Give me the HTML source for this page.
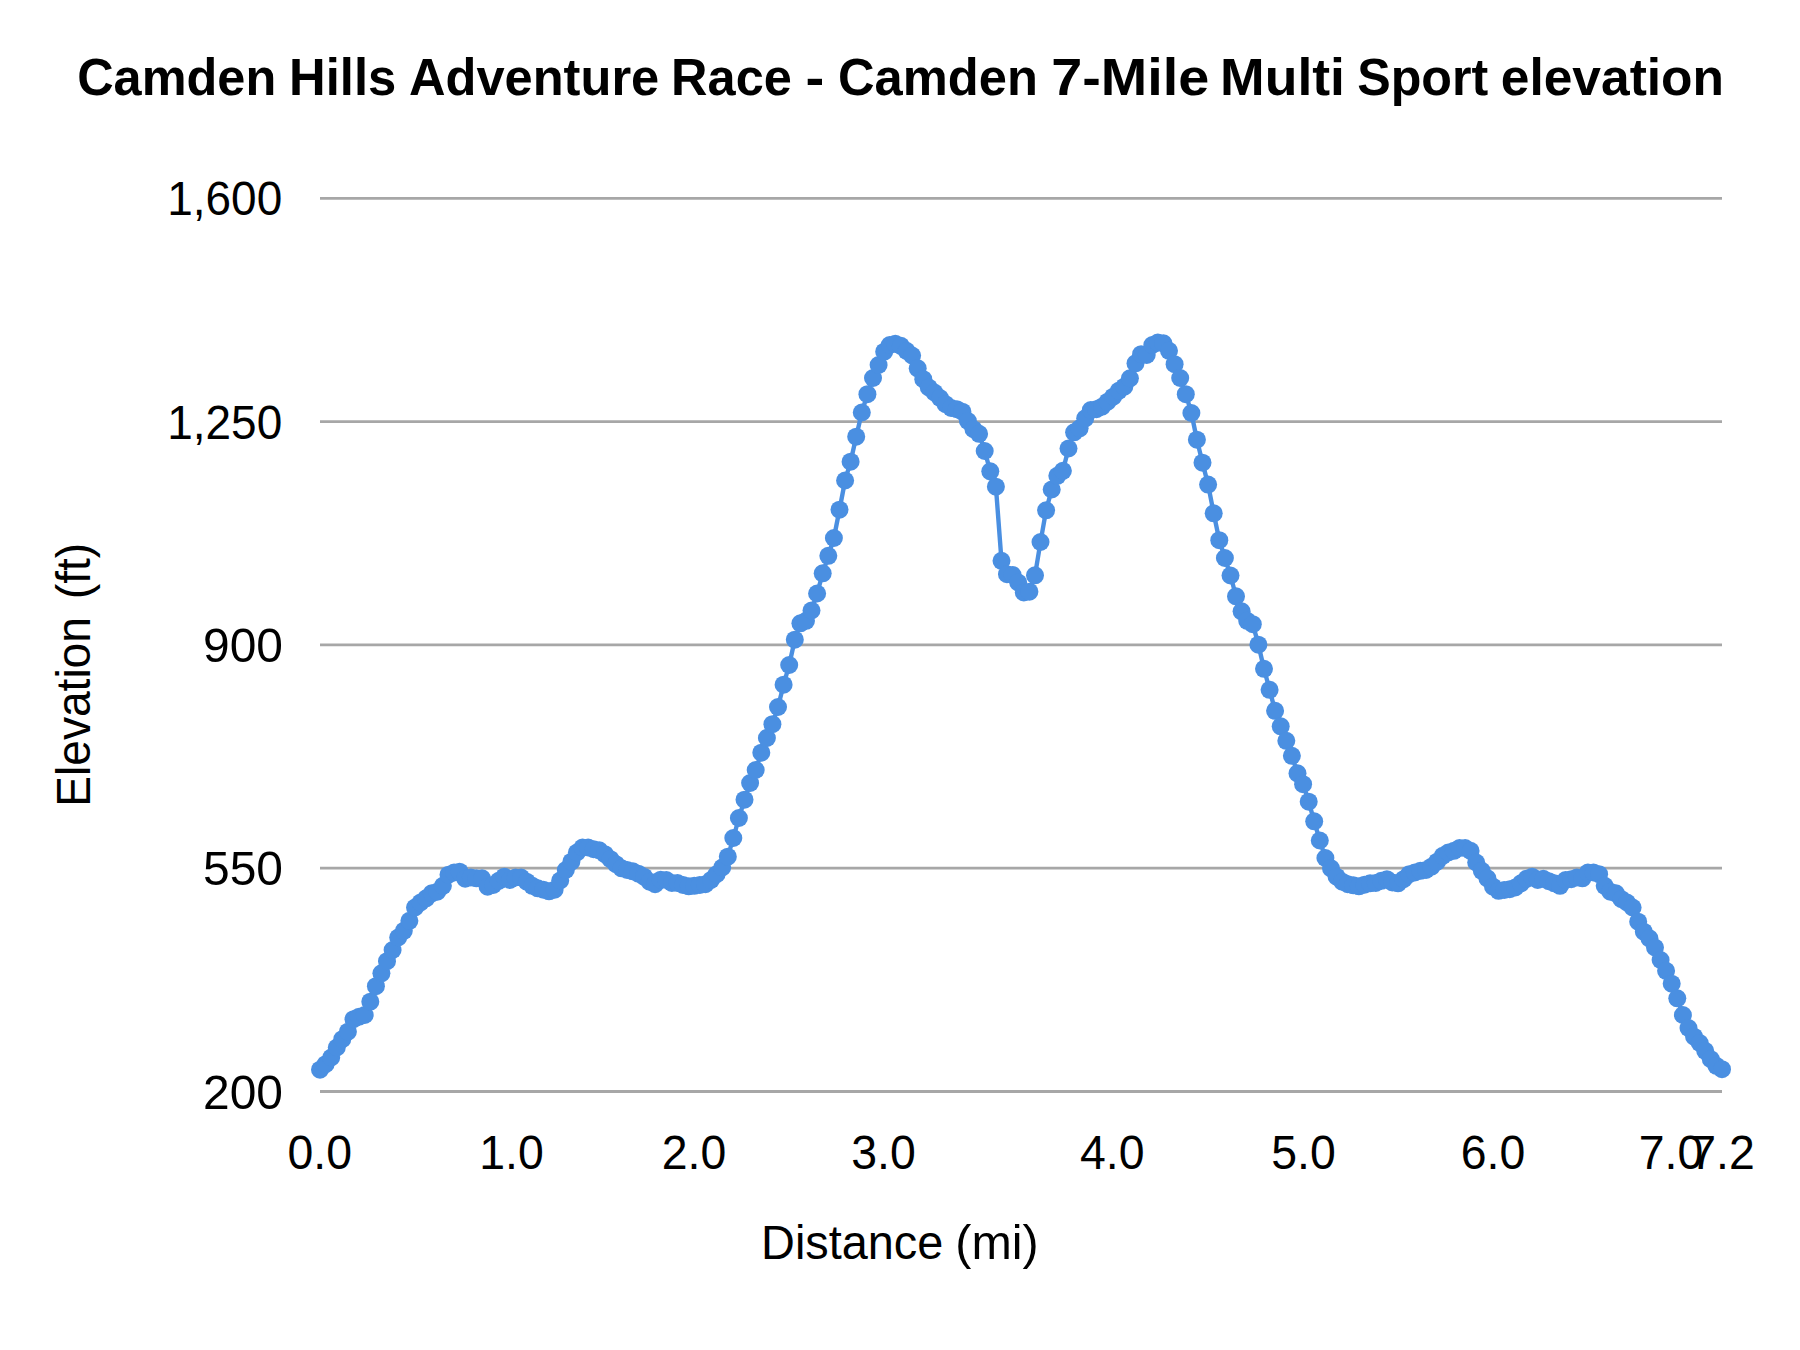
<!DOCTYPE html>
<html><head><meta charset="utf-8"><title>Camden Hills Adventure Race - Camden 7-Mile Multi Sport elevation</title>
<style>
html,body{margin:0;padding:0;background:#fff;}
svg{display:block;}
text{font-family:"Liberation Sans",sans-serif;fill:#000;}
.t{font-weight:bold;font-size:51.5px;}
.a{font-size:48.5px;}
</style></head><body>
<svg width="1800" height="1350" viewBox="0 0 1800 1350">
<rect width="1800" height="1350" fill="#fff"/>
<text class="t" x="77.16" y="95" textLength="199.08" lengthAdjust="spacingAndGlyphs">Camden</text><text class="t" x="289.06" y="95" textLength="107.21" lengthAdjust="spacingAndGlyphs">Hills</text><text class="t" x="408.99" y="95" textLength="250.23" lengthAdjust="spacingAndGlyphs">Adventure</text><text class="t" x="671.10" y="95" textLength="120.77" lengthAdjust="spacingAndGlyphs">Race</text><text class="t" x="805.48" y="95" textLength="18.75" lengthAdjust="spacingAndGlyphs">-</text><text class="t" x="837.96" y="95" textLength="199.90" lengthAdjust="spacingAndGlyphs">Camden</text><text class="t" x="1051.15" y="95" textLength="158.09" lengthAdjust="spacingAndGlyphs">7-Mile</text><text class="t" x="1220.05" y="95" textLength="124.96" lengthAdjust="spacingAndGlyphs">Multi</text><text class="t" x="1357.18" y="95" textLength="131.02" lengthAdjust="spacingAndGlyphs">Sport</text><text class="t" x="1500.77" y="95" textLength="223.30" lengthAdjust="spacingAndGlyphs">elevation</text>
<g stroke="#a7a7a7" stroke-width="2.8"><line x1="320" x2="1722" y1="198.3" y2="198.3"/><line x1="320" x2="1722" y1="421.6" y2="421.6"/><line x1="320" x2="1722" y1="644.9" y2="644.9"/><line x1="320" x2="1722" y1="868.2" y2="868.2"/><line x1="320" x2="1722" y1="1091.5" y2="1091.5"/></g>
<g class="a"><text x="167.2" y="215.3" textLength="115" lengthAdjust="spacingAndGlyphs">1,600</text><text x="167.2" y="438.6" textLength="115" lengthAdjust="spacingAndGlyphs">1,250</text><text x="203" y="661.9" textLength="80" lengthAdjust="spacingAndGlyphs">900</text><text x="203" y="885.2" textLength="80" lengthAdjust="spacingAndGlyphs">550</text><text x="203" y="1108.5" textLength="80" lengthAdjust="spacingAndGlyphs">200</text><text x="287.5" y="1169.2" textLength="64.5" lengthAdjust="spacingAndGlyphs">0.0</text><text x="479.3" y="1169.2" textLength="64.5" lengthAdjust="spacingAndGlyphs">1.0</text><text x="661.8" y="1169.2" textLength="64.5" lengthAdjust="spacingAndGlyphs">2.0</text><text x="851.3" y="1169.2" textLength="64.5" lengthAdjust="spacingAndGlyphs">3.0</text><text x="1080.0" y="1169.2" textLength="64.5" lengthAdjust="spacingAndGlyphs">4.0</text><text x="1271.2" y="1169.2" textLength="64.5" lengthAdjust="spacingAndGlyphs">5.0</text><text x="1460.7" y="1169.2" textLength="64.5" lengthAdjust="spacingAndGlyphs">6.0</text><text x="1638.8" y="1169.2" textLength="64.5" lengthAdjust="spacingAndGlyphs">7.0</text><text x="1690.2" y="1169.2" textLength="64.5" lengthAdjust="spacingAndGlyphs">7.2</text>
<text x="761.1" y="1258.7" textLength="182.2" lengthAdjust="spacingAndGlyphs">Distance</text><text x="955.3" y="1258.7" textLength="83.3" lengthAdjust="spacingAndGlyphs">(mi)</text>
<g transform="translate(90,803.8) rotate(-90)"><text x="-2.85" y="0" textLength="189.5" lengthAdjust="spacingAndGlyphs">Elevation</text><text x="204.8" y="0" textLength="56" lengthAdjust="spacingAndGlyphs">(ft)</text></g>
</g>
<polyline points="320.0,1069.7 325.6,1064.2 331.2,1057.5 336.8,1047.5 342.3,1039.2 347.9,1031.7 353.5,1019.2 359.1,1016.7 364.7,1015.0 370.3,1001.7 375.9,986.2 381.4,973.3 387.0,961.2 392.6,950.0 398.2,937.5 403.8,930.8 409.4,920.8 415.0,907.5 420.5,902.5 426.1,898.3 431.7,893.3 437.3,891.7 442.9,885.8 448.5,874.7 454.1,872.5 459.6,871.7 465.2,878.7 470.8,877.5 476.4,878.3 482.0,878.3 487.6,886.7 493.2,885.0 498.7,880.8 504.3,876.7 509.9,880.0 515.5,877.5 521.1,877.5 526.7,881.7 532.3,885.8 537.8,888.3 543.4,889.7 549.0,891.3 554.6,889.7 560.2,880.5 565.8,870.0 571.4,861.7 576.9,852.5 582.5,847.5 588.1,847.5 593.7,849.2 599.3,850.3 604.9,854.2 610.5,859.2 616.0,864.2 621.6,868.3 627.2,870.0 632.8,871.3 638.4,873.7 644.0,876.7 649.6,881.7 655.1,884.2 660.7,879.7 666.3,880.0 671.9,883.0 677.5,883.0 683.1,885.0 688.7,886.3 694.2,885.8 699.8,885.0 705.4,884.2 711.0,880.0 716.6,874.2 722.2,867.5 727.8,856.7 733.3,838.0 738.9,818.0 744.5,799.7 750.1,783.0 755.7,770.0 761.3,752.7 766.9,738.0 772.4,724.2 778.0,707.0 783.6,684.7 789.2,665.0 794.8,639.7 800.4,623.3 806.0,620.8 811.5,610.5 817.1,593.5 822.7,573.3 828.3,555.8 833.9,538.0 839.5,509.7 845.1,480.5 850.6,461.7 856.2,436.7 861.8,412.5 867.4,394.2 873.0,378.0 878.6,365.0 884.2,351.7 889.7,345.0 895.3,343.8 900.9,345.8 906.5,350.8 912.1,355.5 917.7,368.3 923.3,379.2 928.8,387.5 934.4,392.5 940.0,398.0 945.6,404.2 951.2,408.0 956.8,409.2 962.4,411.7 967.9,421.0 973.5,429.2 979.1,433.8 984.7,451.0 990.3,471.3 995.9,486.7 1001.5,560.8 1007.0,574.2 1012.6,575.0 1018.2,582.5 1023.8,592.5 1029.4,591.7 1035.0,575.3 1040.5,542.0 1046.1,510.3 1051.7,489.5 1057.3,475.8 1062.9,470.8 1068.5,448.5 1074.1,432.3 1079.6,428.3 1085.2,418.3 1090.8,410.0 1096.4,409.2 1102.0,406.7 1107.6,401.7 1113.2,396.7 1118.7,390.8 1124.3,386.7 1129.9,378.3 1135.5,363.3 1141.1,354.2 1146.7,355.0 1152.3,345.0 1157.8,342.5 1163.4,343.3 1169.0,350.8 1174.6,364.2 1180.2,378.0 1185.8,394.2 1191.4,413.0 1196.9,439.7 1202.5,462.7 1208.1,484.6 1213.7,513.3 1219.3,540.2 1224.9,558.0 1230.5,575.5 1236.0,596.3 1241.6,611.3 1247.2,620.8 1252.8,624.2 1258.4,644.7 1264.0,668.8 1269.6,689.8 1275.1,710.8 1280.7,726.3 1286.3,740.8 1291.9,755.8 1297.5,773.3 1303.1,784.2 1308.7,801.7 1314.2,821.3 1319.8,840.5 1325.4,858.0 1331.0,868.3 1336.6,876.7 1342.2,881.7 1347.8,884.2 1353.3,885.3 1358.9,886.3 1364.5,884.7 1370.1,883.3 1375.7,883.0 1381.3,880.8 1386.9,879.2 1392.4,882.5 1398.0,883.3 1403.6,879.2 1409.2,874.2 1414.8,872.5 1420.4,870.8 1426.0,870.0 1431.5,866.7 1437.1,861.7 1442.7,855.8 1448.3,852.5 1453.9,850.8 1459.5,848.0 1465.1,848.0 1470.6,850.8 1476.2,862.5 1481.8,870.8 1487.4,878.3 1493.0,886.7 1498.6,890.8 1504.2,890.0 1509.7,889.2 1515.3,887.5 1520.9,883.3 1526.5,878.8 1532.1,876.7 1537.7,880.0 1543.3,878.8 1548.8,881.2 1554.4,883.3 1560.0,885.8 1565.6,880.0 1571.2,879.2 1576.8,877.5 1582.4,878.3 1587.9,872.5 1593.5,872.5 1599.1,874.2 1604.7,885.8 1610.3,891.7 1615.9,893.3 1621.5,899.2 1627.0,902.5 1632.6,907.5 1638.2,921.7 1643.8,931.7 1649.4,938.3 1655.0,947.5 1660.6,960.0 1666.1,970.8 1671.7,983.7 1677.3,998.3 1682.9,1015.0 1688.5,1028.0 1694.1,1036.7 1699.7,1043.0 1705.2,1050.8 1710.8,1059.2 1716.4,1065.8 1722.0,1069.2" fill="none" stroke="#4a8fe1" stroke-width="4.4" stroke-linejoin="round" stroke-linecap="round"/>
<g fill="#4a8fe1"><circle cx="320.0" cy="1069.7" r="9.0"/><circle cx="325.6" cy="1064.2" r="9.0"/><circle cx="331.2" cy="1057.5" r="9.0"/><circle cx="336.8" cy="1047.5" r="9.0"/><circle cx="342.3" cy="1039.2" r="9.0"/><circle cx="347.9" cy="1031.7" r="9.0"/><circle cx="353.5" cy="1019.2" r="9.0"/><circle cx="359.1" cy="1016.7" r="9.0"/><circle cx="364.7" cy="1015.0" r="9.0"/><circle cx="370.3" cy="1001.7" r="9.0"/><circle cx="375.9" cy="986.2" r="9.0"/><circle cx="381.4" cy="973.3" r="9.0"/><circle cx="387.0" cy="961.2" r="9.0"/><circle cx="392.6" cy="950.0" r="9.0"/><circle cx="398.2" cy="937.5" r="9.0"/><circle cx="403.8" cy="930.8" r="9.0"/><circle cx="409.4" cy="920.8" r="9.0"/><circle cx="415.0" cy="907.5" r="9.0"/><circle cx="420.5" cy="902.5" r="9.0"/><circle cx="426.1" cy="898.3" r="9.0"/><circle cx="431.7" cy="893.3" r="9.0"/><circle cx="437.3" cy="891.7" r="9.0"/><circle cx="442.9" cy="885.8" r="9.0"/><circle cx="448.5" cy="874.7" r="9.0"/><circle cx="454.1" cy="872.5" r="9.0"/><circle cx="459.6" cy="871.7" r="9.0"/><circle cx="465.2" cy="878.7" r="9.0"/><circle cx="470.8" cy="877.5" r="9.0"/><circle cx="476.4" cy="878.3" r="9.0"/><circle cx="482.0" cy="878.3" r="9.0"/><circle cx="487.6" cy="886.7" r="9.0"/><circle cx="493.2" cy="885.0" r="9.0"/><circle cx="498.7" cy="880.8" r="9.0"/><circle cx="504.3" cy="876.7" r="9.0"/><circle cx="509.9" cy="880.0" r="9.0"/><circle cx="515.5" cy="877.5" r="9.0"/><circle cx="521.1" cy="877.5" r="9.0"/><circle cx="526.7" cy="881.7" r="9.0"/><circle cx="532.3" cy="885.8" r="9.0"/><circle cx="537.8" cy="888.3" r="9.0"/><circle cx="543.4" cy="889.7" r="9.0"/><circle cx="549.0" cy="891.3" r="9.0"/><circle cx="554.6" cy="889.7" r="9.0"/><circle cx="560.2" cy="880.5" r="9.0"/><circle cx="565.8" cy="870.0" r="9.0"/><circle cx="571.4" cy="861.7" r="9.0"/><circle cx="576.9" cy="852.5" r="9.0"/><circle cx="582.5" cy="847.5" r="9.0"/><circle cx="588.1" cy="847.5" r="9.0"/><circle cx="593.7" cy="849.2" r="9.0"/><circle cx="599.3" cy="850.3" r="9.0"/><circle cx="604.9" cy="854.2" r="9.0"/><circle cx="610.5" cy="859.2" r="9.0"/><circle cx="616.0" cy="864.2" r="9.0"/><circle cx="621.6" cy="868.3" r="9.0"/><circle cx="627.2" cy="870.0" r="9.0"/><circle cx="632.8" cy="871.3" r="9.0"/><circle cx="638.4" cy="873.7" r="9.0"/><circle cx="644.0" cy="876.7" r="9.0"/><circle cx="649.6" cy="881.7" r="9.0"/><circle cx="655.1" cy="884.2" r="9.0"/><circle cx="660.7" cy="879.7" r="9.0"/><circle cx="666.3" cy="880.0" r="9.0"/><circle cx="671.9" cy="883.0" r="9.0"/><circle cx="677.5" cy="883.0" r="9.0"/><circle cx="683.1" cy="885.0" r="9.0"/><circle cx="688.7" cy="886.3" r="9.0"/><circle cx="694.2" cy="885.8" r="9.0"/><circle cx="699.8" cy="885.0" r="9.0"/><circle cx="705.4" cy="884.2" r="9.0"/><circle cx="711.0" cy="880.0" r="9.0"/><circle cx="716.6" cy="874.2" r="9.0"/><circle cx="722.2" cy="867.5" r="9.0"/><circle cx="727.8" cy="856.7" r="9.0"/><circle cx="733.3" cy="838.0" r="9.0"/><circle cx="738.9" cy="818.0" r="9.0"/><circle cx="744.5" cy="799.7" r="9.0"/><circle cx="750.1" cy="783.0" r="9.0"/><circle cx="755.7" cy="770.0" r="9.0"/><circle cx="761.3" cy="752.7" r="9.0"/><circle cx="766.9" cy="738.0" r="9.0"/><circle cx="772.4" cy="724.2" r="9.0"/><circle cx="778.0" cy="707.0" r="9.0"/><circle cx="783.6" cy="684.7" r="9.0"/><circle cx="789.2" cy="665.0" r="9.0"/><circle cx="794.8" cy="639.7" r="9.0"/><circle cx="800.4" cy="623.3" r="9.0"/><circle cx="806.0" cy="620.8" r="9.0"/><circle cx="811.5" cy="610.5" r="9.0"/><circle cx="817.1" cy="593.5" r="9.0"/><circle cx="822.7" cy="573.3" r="9.0"/><circle cx="828.3" cy="555.8" r="9.0"/><circle cx="833.9" cy="538.0" r="9.0"/><circle cx="839.5" cy="509.7" r="9.0"/><circle cx="845.1" cy="480.5" r="9.0"/><circle cx="850.6" cy="461.7" r="9.0"/><circle cx="856.2" cy="436.7" r="9.0"/><circle cx="861.8" cy="412.5" r="9.0"/><circle cx="867.4" cy="394.2" r="9.0"/><circle cx="873.0" cy="378.0" r="9.0"/><circle cx="878.6" cy="365.0" r="9.0"/><circle cx="884.2" cy="351.7" r="9.0"/><circle cx="889.7" cy="345.0" r="9.0"/><circle cx="895.3" cy="343.8" r="9.0"/><circle cx="900.9" cy="345.8" r="9.0"/><circle cx="906.5" cy="350.8" r="9.0"/><circle cx="912.1" cy="355.5" r="9.0"/><circle cx="917.7" cy="368.3" r="9.0"/><circle cx="923.3" cy="379.2" r="9.0"/><circle cx="928.8" cy="387.5" r="9.0"/><circle cx="934.4" cy="392.5" r="9.0"/><circle cx="940.0" cy="398.0" r="9.0"/><circle cx="945.6" cy="404.2" r="9.0"/><circle cx="951.2" cy="408.0" r="9.0"/><circle cx="956.8" cy="409.2" r="9.0"/><circle cx="962.4" cy="411.7" r="9.0"/><circle cx="967.9" cy="421.0" r="9.0"/><circle cx="973.5" cy="429.2" r="9.0"/><circle cx="979.1" cy="433.8" r="9.0"/><circle cx="984.7" cy="451.0" r="9.0"/><circle cx="990.3" cy="471.3" r="9.0"/><circle cx="995.9" cy="486.7" r="9.0"/><circle cx="1001.5" cy="560.8" r="9.0"/><circle cx="1007.0" cy="574.2" r="9.0"/><circle cx="1012.6" cy="575.0" r="9.0"/><circle cx="1018.2" cy="582.5" r="9.0"/><circle cx="1023.8" cy="592.5" r="9.0"/><circle cx="1029.4" cy="591.7" r="9.0"/><circle cx="1035.0" cy="575.3" r="9.0"/><circle cx="1040.5" cy="542.0" r="9.0"/><circle cx="1046.1" cy="510.3" r="9.0"/><circle cx="1051.7" cy="489.5" r="9.0"/><circle cx="1057.3" cy="475.8" r="9.0"/><circle cx="1062.9" cy="470.8" r="9.0"/><circle cx="1068.5" cy="448.5" r="9.0"/><circle cx="1074.1" cy="432.3" r="9.0"/><circle cx="1079.6" cy="428.3" r="9.0"/><circle cx="1085.2" cy="418.3" r="9.0"/><circle cx="1090.8" cy="410.0" r="9.0"/><circle cx="1096.4" cy="409.2" r="9.0"/><circle cx="1102.0" cy="406.7" r="9.0"/><circle cx="1107.6" cy="401.7" r="9.0"/><circle cx="1113.2" cy="396.7" r="9.0"/><circle cx="1118.7" cy="390.8" r="9.0"/><circle cx="1124.3" cy="386.7" r="9.0"/><circle cx="1129.9" cy="378.3" r="9.0"/><circle cx="1135.5" cy="363.3" r="9.0"/><circle cx="1141.1" cy="354.2" r="9.0"/><circle cx="1146.7" cy="355.0" r="9.0"/><circle cx="1152.3" cy="345.0" r="9.0"/><circle cx="1157.8" cy="342.5" r="9.0"/><circle cx="1163.4" cy="343.3" r="9.0"/><circle cx="1169.0" cy="350.8" r="9.0"/><circle cx="1174.6" cy="364.2" r="9.0"/><circle cx="1180.2" cy="378.0" r="9.0"/><circle cx="1185.8" cy="394.2" r="9.0"/><circle cx="1191.4" cy="413.0" r="9.0"/><circle cx="1196.9" cy="439.7" r="9.0"/><circle cx="1202.5" cy="462.7" r="9.0"/><circle cx="1208.1" cy="484.6" r="9.0"/><circle cx="1213.7" cy="513.3" r="9.0"/><circle cx="1219.3" cy="540.2" r="9.0"/><circle cx="1224.9" cy="558.0" r="9.0"/><circle cx="1230.5" cy="575.5" r="9.0"/><circle cx="1236.0" cy="596.3" r="9.0"/><circle cx="1241.6" cy="611.3" r="9.0"/><circle cx="1247.2" cy="620.8" r="9.0"/><circle cx="1252.8" cy="624.2" r="9.0"/><circle cx="1258.4" cy="644.7" r="9.0"/><circle cx="1264.0" cy="668.8" r="9.0"/><circle cx="1269.6" cy="689.8" r="9.0"/><circle cx="1275.1" cy="710.8" r="9.0"/><circle cx="1280.7" cy="726.3" r="9.0"/><circle cx="1286.3" cy="740.8" r="9.0"/><circle cx="1291.9" cy="755.8" r="9.0"/><circle cx="1297.5" cy="773.3" r="9.0"/><circle cx="1303.1" cy="784.2" r="9.0"/><circle cx="1308.7" cy="801.7" r="9.0"/><circle cx="1314.2" cy="821.3" r="9.0"/><circle cx="1319.8" cy="840.5" r="9.0"/><circle cx="1325.4" cy="858.0" r="9.0"/><circle cx="1331.0" cy="868.3" r="9.0"/><circle cx="1336.6" cy="876.7" r="9.0"/><circle cx="1342.2" cy="881.7" r="9.0"/><circle cx="1347.8" cy="884.2" r="9.0"/><circle cx="1353.3" cy="885.3" r="9.0"/><circle cx="1358.9" cy="886.3" r="9.0"/><circle cx="1364.5" cy="884.7" r="9.0"/><circle cx="1370.1" cy="883.3" r="9.0"/><circle cx="1375.7" cy="883.0" r="9.0"/><circle cx="1381.3" cy="880.8" r="9.0"/><circle cx="1386.9" cy="879.2" r="9.0"/><circle cx="1392.4" cy="882.5" r="9.0"/><circle cx="1398.0" cy="883.3" r="9.0"/><circle cx="1403.6" cy="879.2" r="9.0"/><circle cx="1409.2" cy="874.2" r="9.0"/><circle cx="1414.8" cy="872.5" r="9.0"/><circle cx="1420.4" cy="870.8" r="9.0"/><circle cx="1426.0" cy="870.0" r="9.0"/><circle cx="1431.5" cy="866.7" r="9.0"/><circle cx="1437.1" cy="861.7" r="9.0"/><circle cx="1442.7" cy="855.8" r="9.0"/><circle cx="1448.3" cy="852.5" r="9.0"/><circle cx="1453.9" cy="850.8" r="9.0"/><circle cx="1459.5" cy="848.0" r="9.0"/><circle cx="1465.1" cy="848.0" r="9.0"/><circle cx="1470.6" cy="850.8" r="9.0"/><circle cx="1476.2" cy="862.5" r="9.0"/><circle cx="1481.8" cy="870.8" r="9.0"/><circle cx="1487.4" cy="878.3" r="9.0"/><circle cx="1493.0" cy="886.7" r="9.0"/><circle cx="1498.6" cy="890.8" r="9.0"/><circle cx="1504.2" cy="890.0" r="9.0"/><circle cx="1509.7" cy="889.2" r="9.0"/><circle cx="1515.3" cy="887.5" r="9.0"/><circle cx="1520.9" cy="883.3" r="9.0"/><circle cx="1526.5" cy="878.8" r="9.0"/><circle cx="1532.1" cy="876.7" r="9.0"/><circle cx="1537.7" cy="880.0" r="9.0"/><circle cx="1543.3" cy="878.8" r="9.0"/><circle cx="1548.8" cy="881.2" r="9.0"/><circle cx="1554.4" cy="883.3" r="9.0"/><circle cx="1560.0" cy="885.8" r="9.0"/><circle cx="1565.6" cy="880.0" r="9.0"/><circle cx="1571.2" cy="879.2" r="9.0"/><circle cx="1576.8" cy="877.5" r="9.0"/><circle cx="1582.4" cy="878.3" r="9.0"/><circle cx="1587.9" cy="872.5" r="9.0"/><circle cx="1593.5" cy="872.5" r="9.0"/><circle cx="1599.1" cy="874.2" r="9.0"/><circle cx="1604.7" cy="885.8" r="9.0"/><circle cx="1610.3" cy="891.7" r="9.0"/><circle cx="1615.9" cy="893.3" r="9.0"/><circle cx="1621.5" cy="899.2" r="9.0"/><circle cx="1627.0" cy="902.5" r="9.0"/><circle cx="1632.6" cy="907.5" r="9.0"/><circle cx="1638.2" cy="921.7" r="9.0"/><circle cx="1643.8" cy="931.7" r="9.0"/><circle cx="1649.4" cy="938.3" r="9.0"/><circle cx="1655.0" cy="947.5" r="9.0"/><circle cx="1660.6" cy="960.0" r="9.0"/><circle cx="1666.1" cy="970.8" r="9.0"/><circle cx="1671.7" cy="983.7" r="9.0"/><circle cx="1677.3" cy="998.3" r="9.0"/><circle cx="1682.9" cy="1015.0" r="9.0"/><circle cx="1688.5" cy="1028.0" r="9.0"/><circle cx="1694.1" cy="1036.7" r="9.0"/><circle cx="1699.7" cy="1043.0" r="9.0"/><circle cx="1705.2" cy="1050.8" r="9.0"/><circle cx="1710.8" cy="1059.2" r="9.0"/><circle cx="1716.4" cy="1065.8" r="9.0"/><circle cx="1722.0" cy="1069.2" r="9.0"/></g>
</svg>
</body></html>
